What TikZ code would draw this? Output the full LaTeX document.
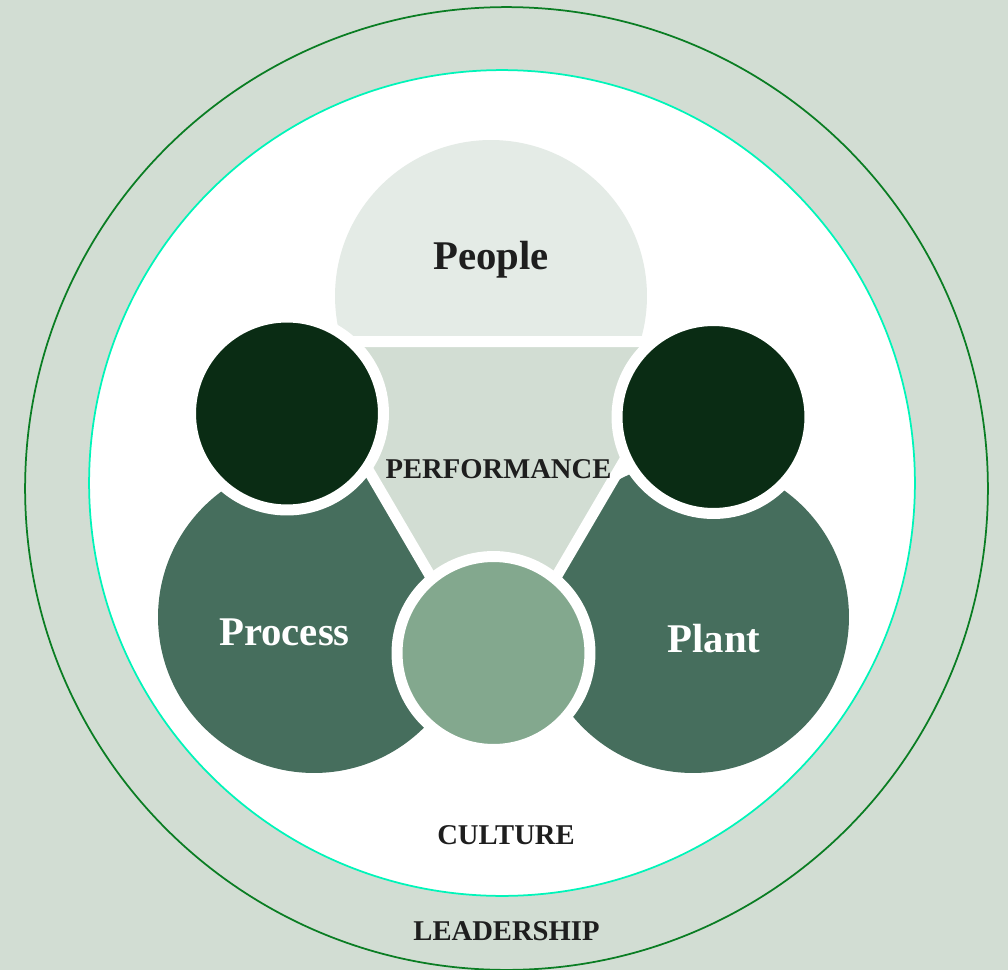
\documentclass[tikz,border=0pt]{standalone}
\usepackage{fontspec}
\setmainfont{Liberation Serif}
\definecolor{pagegreen}{RGB}{210,221,211}
\definecolor{ringgreen}{RGB}{10,125,35}
\definecolor{ringmint}{RGB}{0,245,185}
\definecolor{palegreen}{RGB}{228,235,230}
\definecolor{midgreen}{RGB}{70,110,93}
\definecolor{darkgreen}{RGB}{10,44,20}
\definecolor{softgreen}{RGB}{131,168,142}
\definecolor{inkblack}{RGB}{30,30,30}
\tikzset{
  ring/.style={circle, line width=0.035cm, inner sep=0pt},
  petal/.style={circle, minimum size=6.24cm, inner sep=0pt},
  hub/.style={circle, line width=0.22cm, draw=white, minimum size=3.86cm, inner sep=0pt},
  big-label/.style={font=\bfseries\fontsize{23.2pt}{24pt}\selectfont, inner sep=0pt},
  small-label/.style={font=\bfseries\fontsize{16.3pt}{18pt}\selectfont, text=inkblack, inner sep=0pt}
}

\begin{document}
\begin{tikzpicture}[x=0.02cm,y=-0.02cm]
  \fill[pagegreen] (0,0) rectangle (1008,970);
  \useasboundingbox (0,0) rectangle (1008,970);

  % rings
  \node[ring, draw=ringgreen, minimum size=19.26cm] (leadership) at (506.5,488.5) {};
  \node[ring, draw=ringmint, fill=white, minimum size=16.52cm] (culture) at (502,483) {};

  % large discs
  \node[petal, fill=palegreen] (people) at (491,296) {};
  \node[petal, fill=midgreen] (process) at (314,617) {};
  \node[petal, fill=midgreen] (plant) at (693,617) {};

  % middle triangle
  \path[fill=pagegreen, draw=white, line width=0.22cm, line join=miter]
    (293,341.5) -- (694,341.5) -- (493.5,684) -- cycle;

  % small discs on top
  \foreach \name/\x/\y/\col in {hubleft/287/413.5/darkgreen,hubright/713.5/417/darkgreen,hubbottom/493.5/653/softgreen}{
    \node[hub, fill=\col] (\name) at (\x,\y) {};
  }

  % labels
  \node[big-label, text=inkblack] (peoplelabel) at (491,259.5) {People};
  \node[big-label, text=white] (processlabel) at (284.5,632.5) {Process};
  \node[big-label, text=white] (plantlabel) at (714,639) {Plant};
  \node[small-label] (performancelabel) at (498.5,469) {PERFORMANCE};
  \node[small-label] (culturelabel) at (506,835) {CULTURE};
  \node[small-label] (leadershiplabel) at (506.5,931) {LEADERSHIP};
\end{tikzpicture}
\end{document}
